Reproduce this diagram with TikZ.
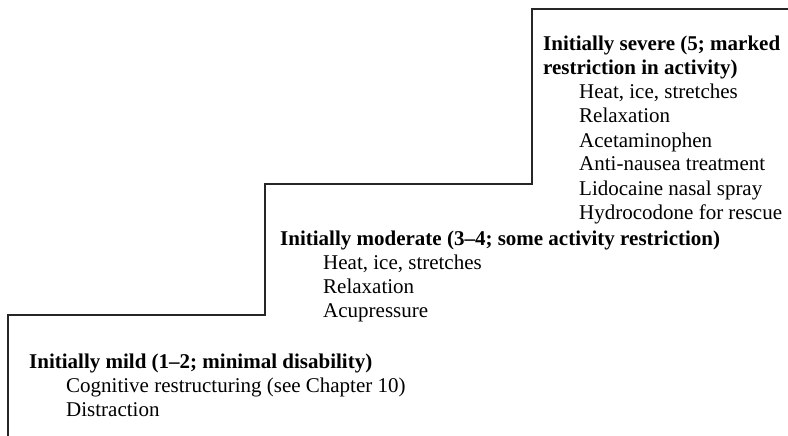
\documentclass[tikz,border=0pt]{standalone}
\usepackage{fontspec}
\setmainfont{Liberation Serif}
\begin{document}
\begin{tikzpicture}[x=1pt,y=-1pt,
  stair/.style={draw=black!85,line width=1.1pt},
  head/.style={anchor=base west,inner sep=0pt,font=\fontsize{21}{24}\selectfont\bfseries},
  item/.style={anchor=base west,inner sep=0pt,font=\fontsize{21}{24}\selectfont}]
\useasboundingbox (0,0) rectangle (788,436);
\coordinate (s0) at (8,436);
\coordinate (s1) at (8,315);
\coordinate (s2) at (265,315);
\coordinate (s3) at (265,184);
\coordinate (s4) at (532,184);
\coordinate (s5) at (532,9);
\coordinate (s6) at (788,9);
\draw[stair] (s0) -- (s1) -- (s2) -- (s3) -- (s4) -- (s5) -- (s6);
% severe
\node[head] (sh1) at (543,51) {Initially severe (5; marked};
\node[head] (sh2) at (543,75) {restriction in activity)};
\node[item] (si1) at (579,99) {Heat, ice, stretches};
\node[item] (si2) at (579,123) {Relaxation};
\node[item] (si3) at (579,147) {Acetaminophen};
\node[item] (si4) at (579,171) {Anti-nausea treatment};
\node[item] (si5) at (579,195) {Lidocaine nasal spray};
\node[item] (si6) at (579,219) {Hydrocodone for rescue};
% moderate
\node[head] (mh) at (280,245) {Initially moderate (3--4; some activity restriction)};
\node[item] (mi1) at (323,269) {Heat, ice, stretches};
\node[item] (mi2) at (323,293) {Relaxation};
\node[item] (mi3) at (323,317) {Acupressure};
% mild
\node[head] (lh) at (29,368) {Initially mild (1--2; minimal disability)};
\node[item] (li1) at (66,392) {Cognitive restructuring (see Chapter 10)};
\node[item] (li2) at (66,416) {Distraction};
\end{tikzpicture}
\end{document}
